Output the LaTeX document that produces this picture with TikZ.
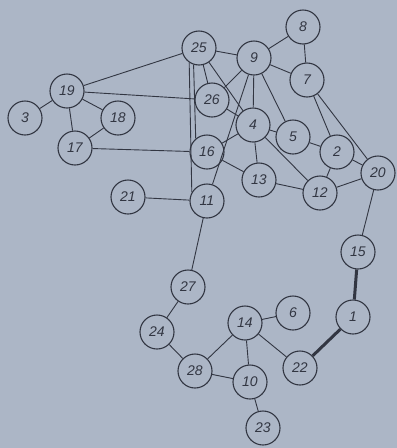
\documentclass[tikz,border=0pt]{standalone}
\usepackage{fontspec}
\setmainfont{Liberation Sans}
\definecolor{bg}{RGB}{172,182,198}
\definecolor{ink}{RGB}{50,54,66}
\begin{document}
\begin{tikzpicture}[x=1pt,y=-1pt,
  vtx/.style={circle,draw=ink,line width=1.1pt,minimum size=34pt,inner sep=0pt,
    font=\fontsize{14}{14}\selectfont\itshape,text=ink},
  edge/.style={draw=ink,line width=0.9pt},
  heavy/.style={draw=ink,line width=3pt}]
\fill[bg] (0,0) rectangle (397,448);
\useasboundingbox (0,0) rectangle (397,448);
\node[vtx] (n25) at (199,48) {25};
\node[vtx] (n9) at (254,58) {9};
\node[vtx] (n8) at (303,27) {8};
\node[vtx] (n7) at (307,80) {7};
\node[vtx] (n26) at (212,100) {26};
\node[vtx] (n4) at (253,125) {4};
\node[vtx] (n5) at (293,137) {5};
\node[vtx] (n2) at (337,152) {2};
\node[vtx] (n20) at (378,173) {20};
\node[vtx] (n16) at (207,152) {16};
\node[vtx] (n13) at (259,180) {13};
\node[vtx] (n12) at (320,193) {12};
\node[vtx] (n11) at (207,201) {11};
\node[vtx] (n19) at (67,91) {19};
\node[vtx] (n3) at (25,118) {3};
\node[vtx] (n18) at (118,118) {18};
\node[vtx] (n17) at (75,148) {17};
\node[vtx] (n21) at (128,197) {21};
\node[vtx] (n15) at (358,252) {15};
\node[vtx] (n27) at (188,287) {27};
\node[vtx] (n1) at (353,317) {1};
\node[vtx] (n14) at (245,323) {14};
\node[vtx] (n6) at (293,313) {6};
\node[vtx] (n24) at (157,332) {24};
\node[vtx] (n22) at (300,368) {22};
\node[vtx] (n28) at (195,371) {28};
\node[vtx] (n10) at (250,382) {10};
\node[vtx] (n23) at (263,428) {23};
\foreach \a/\b in {n25/n19,n25/n9,n25/n26,n25/n4,n19/n26,n19/n3,n19/n18,n19/n17,
  n18/n17,n17/n16,n21/n11,n9/n8,n9/n7,n8/n7,n9/n26,n9/n4,n9/n5,n26/n4,n4/n5,
  n4/n16,n4/n13,n4/n12,n5/n2,n7/n2,n7/n20,n2/n12,n2/n20,n12/n20,n13/n12,n16/n13,
  n11/n27,n20/n15,n27/n24,n24/n28,n28/n14,n28/n10,n14/n10,n14/n6,n14/n22,n10/n23}
  \path[edge] (\a) -- (\b);
\path[edge] (n25.236) -- (n11.150);
\path[edge] (n25.252) -- (n16.130);
\path[edge] (n9) -- (n11);
\path[heavy] (n15) -- (n1);
\path[heavy] (n1) -- (n22);
\end{tikzpicture}
\end{document}
